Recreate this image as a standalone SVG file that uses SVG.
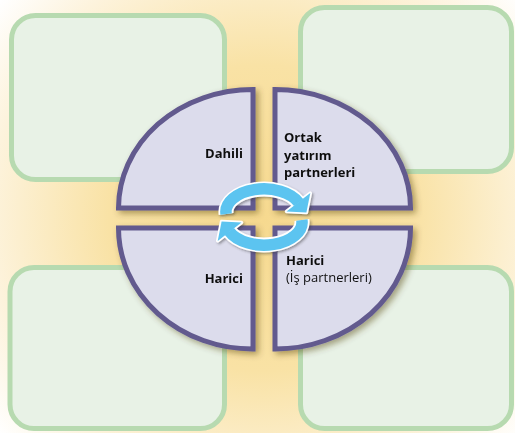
<svg xmlns="http://www.w3.org/2000/svg" width="515" height="433" viewBox="0 0 515 433">
  <defs>
    <radialGradient id="bg" cx="262" cy="218" r="340" gradientUnits="userSpaceOnUse">
      <stop offset="0" stop-color="#f6d98f"/>
      <stop offset="0.45" stop-color="#f9e2a5"/>
      <stop offset="0.8" stop-color="#fdf3dc"/>
      <stop offset="1" stop-color="#ffffff"/>
    </radialGradient>
    <filter id="shadow" x="-20%" y="-20%" width="140%" height="140%">
      <feDropShadow dx="3" dy="3" stdDeviation="3" flood-color="#4a3a10" flood-opacity="0.45"/>
    </filter>
    <filter id="ashadow" x="-20%" y="-20%" width="140%" height="140%">
      <feDropShadow dx="1.5" dy="1.5" stdDeviation="1.2" flood-color="#333" flood-opacity="0.45"/>
    </filter>
    <g id="arrow">
      <path d="M226.1 214 A38 23 0 0 1 298.4 202.3" fill="none" stroke="#ffffff" stroke-width="15"/>
      <polygon points="310.3,193.1 286.5,211.5 306.4,212.6" fill="#ffffff" stroke="#ffffff" stroke-width="3.5" stroke-linejoin="round"/>
      <path d="M226.1 214 A38 23 0 0 1 298.7 202.6" fill="none" stroke="#5bc4f0" stroke-width="11.5"/>
      <polygon points="310.3,193.1 286.5,211.5 306.4,212.6" fill="#5bc4f0"/>
    </g>
  </defs>
  <style>
    .box { fill: #e8f2e6; stroke: #b7dab0; stroke-width: 5; }
    .quad { fill: #dcdcec; stroke: #625a8e; stroke-width: 5; stroke-linejoin: miter; }
    .lbl { font-family: "Open Sans", "Noto Sans", "Liberation Sans", sans-serif; font-size: 13px; fill: #111111; }
    .b { font-weight: bold; }
  </style>

  <rect x="0" y="0" width="515" height="433" fill="url(#bg)"/>

  <g id="box-tl"><rect class="box" x="11.5" y="15.5" width="213" height="164" rx="24"/></g>
  <g id="box-tr"><rect class="box" x="300.5" y="7.5" width="211" height="164" rx="24"/></g>
  <g id="box-bl"><rect class="box" x="10" y="267.5" width="214.5" height="161" rx="24"/></g>
  <g id="box-br"><rect class="box" x="300.5" y="267.5" width="211" height="161" rx="24"/></g>

  <g id="quad-dahili" filter="url(#shadow)">
    <path class="quad" d="M253 208 L118.5 208 A134.5 118.5 0 0 1 253 89.5 Z"/>
    <text class="lbl b" x="243" y="157.5" text-anchor="end">Dahili</text>
  </g>
  <g id="quad-ortak" filter="url(#shadow)">
    <path class="quad" d="M275 208 L410.5 208 A135.5 118.5 0 0 0 275 89.5 Z"/>
    <text class="lbl b" x="284" y="142">Ortak</text>
    <text class="lbl b" x="284" y="160">yatırım</text>
    <text class="lbl b" x="284" y="177">partnerleri</text>
  </g>
  <g id="quad-harici" filter="url(#shadow)">
    <path class="quad" d="M253 228 L118.5 228 A134.5 121 0 0 0 253 349 Z"/>
    <text class="lbl b" x="243" y="283" text-anchor="end">Harici</text>
  </g>
  <g id="quad-harici-is" filter="url(#shadow)">
    <path class="quad" d="M275 228 L410.5 228 A135.5 121 0 0 1 275 349 Z"/>
    <text class="lbl b" x="286" y="265">Harici</text>
    <text class="lbl" x="286" y="282">(İş partnerleri)</text>
  </g>

  <g id="connectors" filter="url(#ashadow)">
    <use href="#arrow"/>
    <use href="#arrow" transform="rotate(180 264 217)"/>
  </g>
</svg>
